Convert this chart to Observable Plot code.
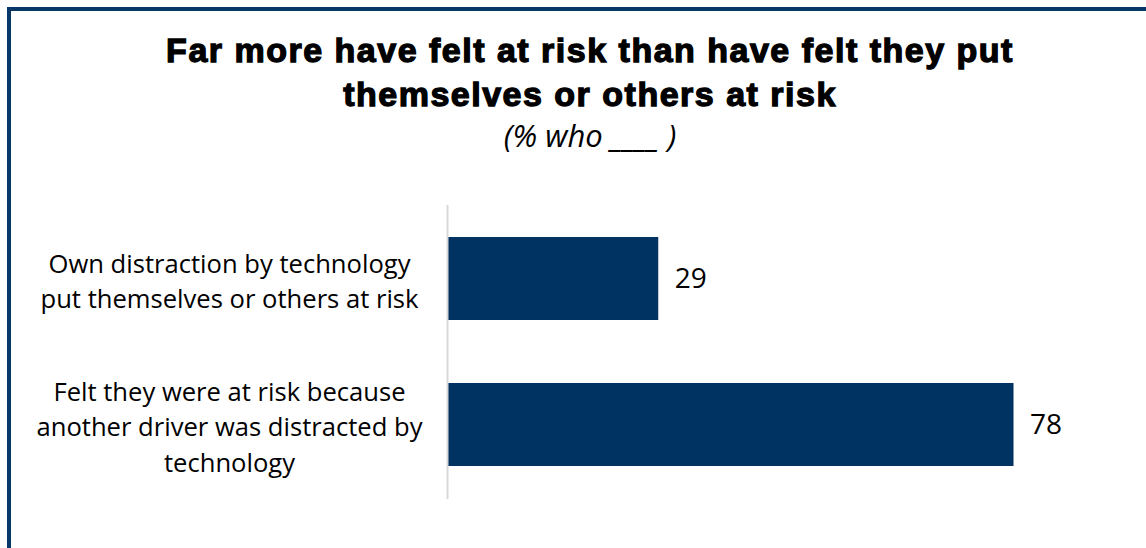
<!DOCTYPE html>
<html>
<head>
<meta charset="utf-8">
<script src="https://cdn.jsdelivr.net/npm/d3@7"></script>
<script src="https://cdn.jsdelivr.net/npm/@observablehq/plot@0.6"></script>
<style>
  html, body { margin: 0; padding: 0; background: #fff; overflow: hidden; width: 1146px; height: 548px; }
  #frame { position: absolute; left: 7px; top: 7px; width: 1300px; height: 700px;
           border-left: 4px solid #063766; border-top: 4px solid #063766; }
  #title { position: absolute; left: 0; width: 1180px; top: 28px; text-align: center;
           font-family: "Liberation Sans", Arial, sans-serif; font-weight: bold; font-size: 34px;
           letter-spacing: 1.5px; line-height: 44px; color: #000; -webkit-text-stroke: 1.3px #000; }
  #subtitle { position: absolute; left: 0; width: 1180px; top: 115px; text-align: center;
              font-family: "Open Sans", sans-serif; font-style: italic; font-size: 31px; line-height: 40px; color: #000; }
  #chart { position: absolute; left: 0; top: 180px; }
</style>
</head>
<body>
<div id="frame"></div>
<div id="title">Far more have felt at risk than have felt they put<br>themselves or others at risk</div>
<div id="subtitle">(% who ____ )</div>
<div id="chart"></div>
<script>
const categories = [
  "Own distraction by technology\nput themselves or others at risk",
  "Felt they were at risk because\nanother driver was distracted by\ntechnology"
];
const values = [29, 78];

const data = categories.map((c, i) => ({label: c, value: values[i]}));

const chart = Plot.plot({
  width: 1146,
  height: 368,
  marginLeft: 448,
  marginRight: 118,
  marginTop: 25,
  marginBottom: 49,
  style: {fontFamily: "Open Sans, sans-serif", fontSize: "25.6px", color: "#000", background: "transparent"},
  x: {domain: [0, 80], axis: null},
  y: {domain: categories, paddingInner: 0.43, paddingOuter: 0.22, label: null},
  marks: [
    Plot.barX(data, {x: "value", y: "label", fill: "#003361"}),
    Plot.ruleX([0], {stroke: "#d9d9d9", strokeWidth: 2, dx: -1}),
    Plot.axisY({tickSize: 0, tickPadding: 0, textAnchor: "middle", dx: -219, lineHeight: 1.38, fontSize: 25.6, label: null}),
    Plot.text(data, {x: "value", y: "label", text: d => String(d.value), dx: 16, textAnchor: "start", fontSize: 28, fill: "#000"})
  ]
});
document.getElementById("chart").appendChild(chart);
</script>
</body>
</html>
